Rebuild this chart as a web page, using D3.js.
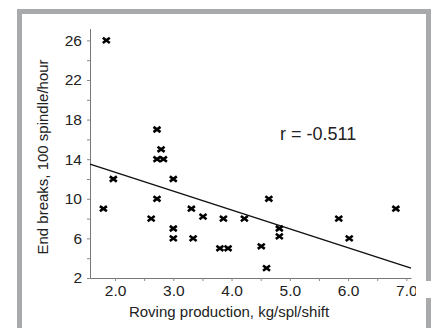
<!DOCTYPE html>
<html>
<head>
<meta charset="utf-8">
<script src="https://cdn.jsdelivr.net/npm/d3@7"></script>
<style>
  html, body { margin: 0; padding: 0; background: #fff; }
  svg { display: block; font-family: "Liberation Sans", Arial, sans-serif; }
</style>
</head>
<body>
<div id="chart"></div>
<script>
// roving production (kg/spl/shift) vs end breaks (per 100 spindle/hour)
const production = [1.85, 1.80, 1.97, 2.62, 2.72, 2.72, 2.79, 2.83, 2.72, 3.00, 3.00, 3.00,
                    3.31, 3.34, 3.51, 3.86, 3.80, 3.94, 4.22, 4.51, 4.60, 4.64, 4.82, 4.82,
                    5.84, 6.02, 6.82];
const endBreaks = [26, 9, 12, 8, 17, 14, 15, 14, 10, 12, 7, 6,
                   9, 6, 8.2, 8, 5, 5, 8, 5.2, 3, 10, 7, 6.2,
                   8, 6, 9];
// fitted line end points
const fitX = [1.57, 7.08];
const fitY = [13.5, 3.0];

const xTicks = d3.range(2, 7.01, 0.5);
const yTicks = d3.range(2, 26.01, 2);
const yLabels = [2, 6, 10, 14, 18, 22, 26];

function drawChart() {
    const width = 431, height = 328;

    const svg = d3.select("#chart")
        .append("svg")
        .attr("width", width)
        .attr("height", height);

    // frame
    svg.append("path")
        .attr("d", "M19.5,328 V11.5 H428.5 V328")
        .attr("fill", "none")
        .attr("stroke", "#a9aaac")
        .attr("stroke-width", 5);

    const x = d3.scaleLinear().domain([1.57, 7.08]).range([90, 411]);
    const y = d3.scaleLinear().domain([2, 27.2]).range([278, 28.5]);

    // x axis
    const xAxis = svg.append("g")
        .attr("transform", `translate(0,${y(2)})`)
        .call(d3.axisBottom(x)
            .tickValues(xTicks)
            .tickSize(3)
            .tickSizeOuter(0)
            .tickPadding(4)
            .tickFormat(d => Math.abs(d - Math.round(d)) < 1e-9 ? d.toFixed(1) : ""));

    // y axis
    const yAxis = svg.append("g")
        .attr("transform", `translate(${x(1.57)},0)`)
        .call(d3.axisLeft(y)
            .tickValues(yTicks)
            .tickSize(3)
            .tickSizeOuter(0)
            .tickPadding(5)
            .tickFormat(d => yLabels.includes(d) ? d : ""));

    [xAxis, yAxis].forEach(a => {
        a.select(".domain").attr("stroke", "#777");
        a.selectAll(".tick line").attr("stroke", "#888");
        a.selectAll(".tick text")
            .style("font-size", "15.5px")
            .style("font-family", "'Liberation Sans', Arial, sans-serif")
            .attr("fill", "#222");
    });

    // fitted line
    svg.append("line")
        .attr("x1", x(fitX[0]))
        .attr("y1", y(fitY[0]))
        .attr("x2", x(fitX[1]))
        .attr("y2", y(fitY[1]))
        .attr("stroke", "#111")
        .attr("stroke-width", 1.5);

    // points
    svg.selectAll(".pt")
        .data(production.map((p, i) => [p, endBreaks[i]]))
        .enter()
        .append("path")
        .attr("class", "pt")
        .attr("transform", d => `translate(${x(d[0])},${y(d[1])})`)
        .attr("d", "M-3.5,-2.6L3.5,2.6M-3.5,2.6L3.5,-2.6")
        .attr("stroke", "#000")
        .attr("stroke-width", 2.6)
        .attr("fill", "none");

    // correlation text
    svg.append("text")
        .attr("x", 280)
        .attr("y", 140)
        .style("font-size", "18px")
        .attr("fill", "#222")
        .text("r = -0.511");

    // axis titles
    svg.append("text")
        .attr("text-anchor", "middle")
        .attr("x", 229)
        .attr("y", 317)
        .style("font-size", "15px")
        .attr("fill", "#222")
        .text("Roving production, kg/spl/shift");

    svg.append("text")
        .attr("text-anchor", "middle")
        .attr("transform", "translate(48,157) rotate(-90)")
        .style("font-size", "15px")
        .attr("fill", "#222")
        .text("End breaks, 100 spindle/hour");

    // white gap in the right edge of the frame
    svg.append("rect")
        .attr("x", 416)
        .attr("y", 281)
        .attr("width", 15)
        .attr("height", 17)
        .attr("fill", "#fff");
}

drawChart();
</script>
</body>
</html>
